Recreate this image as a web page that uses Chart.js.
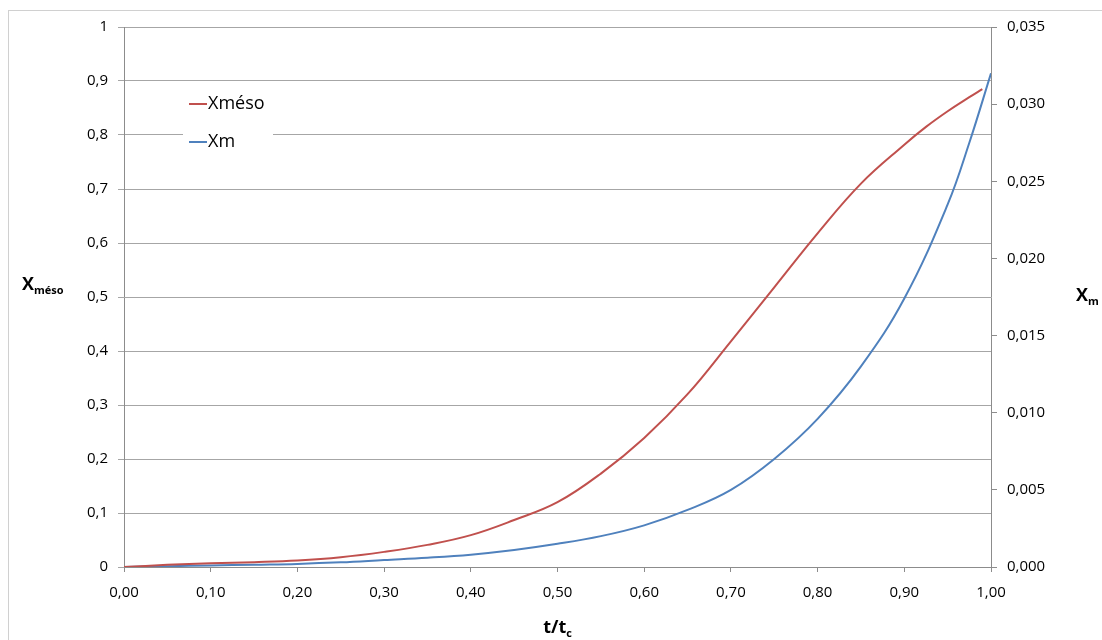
<!DOCTYPE html>
<html>
<head>
<meta charset="utf-8">
<script src="https://cdn.jsdelivr.net/npm/chart.js@4/dist/chart.umd.min.js"></script>
<style>
  html, body { margin: 0; padding: 0; background: #fff; }
  canvas { display: block; }
</style>
</head>
<body>
<canvas id="chart" width="1102" height="640"></canvas>
<script>
// t/tc for each series
const tMeso = [0, 0.05, 0.10, 0.15, 0.20, 0.25, 0.30, 0.35, 0.40, 0.45, 0.50, 0.55, 0.60, 0.65, 0.70, 0.75, 0.80, 0.85, 0.90, 0.925, 0.95, 0.975, 0.99];
const xMeso = [0, 0.004, 0.007, 0.009, 0.012, 0.018, 0.028, 0.041, 0.059, 0.087, 0.120, 0.173, 0.239, 0.320, 0.418, 0.518, 0.618, 0.710, 0.782, 0.815, 0.844, 0.870, 0.885];

const tXm = [0, 0.05, 0.10, 0.15, 0.20, 0.25, 0.30, 0.35, 0.40, 0.45, 0.50, 0.55, 0.60, 0.65, 0.70, 0.75, 0.80, 0.85, 0.90, 0.95, 0.975, 1.00];
const xM = [0, 0.00005, 0.0001, 0.00015, 0.0002, 0.0003, 0.00045, 0.0006, 0.0008, 0.0011, 0.0015, 0.0020, 0.0027, 0.0037, 0.0050, 0.0070, 0.0096, 0.0130, 0.0174, 0.0235, 0.0275, 0.0320];

const seriesNames = ['Xméso', 'Xm'];
const colors = ['#c0504d', '#4f81bd'];

const FONT = '"Open Sans", "Noto Sans", sans-serif';
const gridGray = '#a6a6a6';
const axisGray = '#8c8c8c';

const comma = function (s) { return s.replace('.', ','); };

// legend, axis titles with subscripts, outer frame
const decor = {
    id: 'decor',
    beforeDraw(chart) {
        const ctx = chart.ctx;
        ctx.save();
        ctx.strokeStyle = '#d0d0d0';
        ctx.lineWidth = 1;
        ctx.strokeRect(8.5, 10.5, 1200, 700);
        ctx.restore();
    },
    afterDraw(chart) {
        const ctx = chart.ctx;
        const area = chart.chartArea;
        ctx.save();

        // legend
        ctx.fillStyle = '#fff';
        ctx.fillRect(183, 87, 90, 72);
        const rows = [104, 142];
        rows.forEach(function (y, i) {
            ctx.strokeStyle = colors[i];
            ctx.lineWidth = 2;
            ctx.beginPath();
            ctx.moveTo(189, y);
            ctx.lineTo(207, y);
            ctx.stroke();
            ctx.fillStyle = '#000';
            ctx.font = '18px ' + FONT;
            ctx.textBaseline = 'middle';
            ctx.textAlign = 'left';
            ctx.fillText(chart.data.datasets[i].label, 208, y);
        });

        // axis titles
        const sub = function (main, small, x, y, center) {
            ctx.font = 'bold 18px ' + FONT;
            const w1 = ctx.measureText(main).width;
            ctx.font = 'bold 11px ' + FONT;
            const w2 = ctx.measureText(small).width;
            const x0 = center ? x - (w1 + w2) / 2 : x;
            ctx.textBaseline = 'alphabetic';
            ctx.textAlign = 'left';
            ctx.fillStyle = '#000';
            ctx.font = 'bold 18px ' + FONT;
            ctx.fillText(main, x0, y);
            ctx.font = 'bold 11px ' + FONT;
            ctx.fillText(small, x0 + w1, y + 4);
        };
        sub('X', 'méso', 22, 290, false);
        sub('X', 'm', 1076, 301, false);
        sub('t/t', 'c', (area.left + area.right) / 2, 633, true);

        ctx.restore();
    }
};

const chart = new Chart(document.getElementById('chart').getContext('2d'), {
    type: 'line',
    data: {
        datasets: [
            {
                label: seriesNames[0],
                data: tMeso.map((t, i) => ({ x: t, y: xMeso[i] })),
                borderColor: colors[0],
                borderWidth: 2,
                pointRadius: 0,
                tension: 0.4,
                yAxisID: 'y'
            },
            {
                label: seriesNames[1],
                data: tXm.map((t, i) => ({ x: t, y: xM[i] })),
                borderColor: colors[1],
                borderWidth: 2,
                pointRadius: 0,
                tension: 0.4,
                yAxisID: 'y1'
            }
        ]
    },
    options: {
        responsive: false,
        animation: false,
        layout: { padding: { left: 0, right: 0, top: 27, bottom: 0 } },
        plugins: {
            legend: { display: false },
            tooltip: { enabled: false }
        },
        scales: {
            x: {
                type: 'linear',
                min: 0,
                max: 1,
                afterFit: function (scale) { scale.height = 73; },
                border: { color: axisGray },
                grid: { drawOnChartArea: false, tickLength: 5, color: axisGray },
                ticks: {
                    stepSize: 0.1,
                    padding: 12,
                    color: '#000',
                    font: { family: FONT, size: 15 },
                    maxRotation: 0,
                    callback: function (v) { return comma(v.toFixed(2)); }
                }
            },
            y: {
                position: 'left',
                min: 0,
                max: 1,
                afterFit: function (scale) { scale.width = 124; },
                border: { color: axisGray },
                grid: { color: gridGray, tickLength: 6 },
                ticks: {
                    stepSize: 0.1,
                    padding: 10,
                    color: '#000',
                    font: { family: FONT, size: 15 },
                    callback: function (v) { return comma(String(Number(v.toFixed(1)))); }
                }
            },
            y1: {
                position: 'right',
                min: 0,
                max: 0.035,
                afterFit: function (scale) { scale.width = 111; },
                border: { color: axisGray },
                grid: { drawOnChartArea: false, tickLength: 6, color: axisGray },
                ticks: {
                    stepSize: 0.005,
                    padding: 10,
                    color: '#000',
                    font: { family: FONT, size: 15 },
                    callback: function (v) { return comma(v.toFixed(3)); }
                }
            }
        }
    },
    plugins: [decor]
});
</script>
</body>
</html>
